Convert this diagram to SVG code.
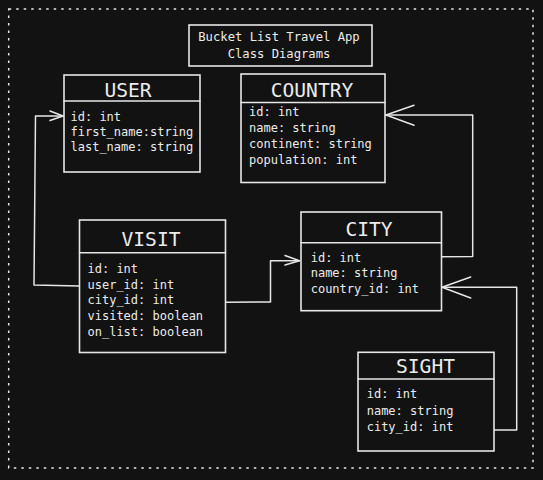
<svg xmlns="http://www.w3.org/2000/svg" width="543" height="480" viewBox="0 0 543 480">
<defs>
<style>
.box{fill:#121212;stroke:#e6e6e6;stroke-width:1.6}
.ln{fill:none;stroke:#e6e6e6;stroke-width:1.5;stroke-linejoin:round;stroke-linecap:round}
.hd{font-family:"DejaVu Sans Mono","Liberation Mono",monospace;font-size:19.6px;fill:#ececec;text-anchor:middle}
.at{font-family:"DejaVu Sans Mono","Liberation Mono",monospace;font-size:12px;fill:#ececec}
.tt{font-family:"DejaVu Sans Mono","Liberation Mono",monospace;font-size:12.2px;fill:#ececec;text-anchor:middle}
</style>
</defs>
<rect width="543" height="480" fill="#121212"/>
<rect x="8.7" y="9" width="524.3" height="459" fill="none" stroke="#e6e6e6" stroke-width="1.5" stroke-dasharray="2.5 5"/>
<g id="title">
<rect class="box" x="189" y="25" width="183" height="41"/>
<text class="tt" x="279" y="41">Bucket List Travel App</text>
<text class="tt" x="279" y="57.5">Class Diagrams</text>
</g>
<g id="user">
<rect class="box" x="64" y="75" width="136" height="97"/>
<line class="ln" x1="64" y1="101" x2="200" y2="101"/>
<text class="hd" x="128" y="97">USER</text>
<text class="at" x="70.5" y="121">id: int</text>
<text class="at" x="70.5" y="136">first_name:string</text>
<text class="at" x="70.5" y="151">last_name: string</text>
</g>
<g id="country">
<rect class="box" x="241" y="74" width="144" height="108.5"/>
<line class="ln" x1="241" y1="102.5" x2="385" y2="102.5"/>
<text class="hd" x="312" y="97">COUNTRY</text>
<text class="at" x="249" y="116">id: int</text>
<text class="at" x="249" y="132">name: string</text>
<text class="at" x="249" y="148">continent: string</text>
<text class="at" x="249" y="164">population: int</text>
</g>
<g id="visit">
<rect class="box" x="79.5" y="220" width="146" height="132.5"/>
<line class="ln" x1="79.5" y1="252.7" x2="225.5" y2="252.7"/>
<text class="hd" x="151" y="246">VISIT</text>
<text class="at" x="87.5" y="272.5">id: int</text>
<text class="at" x="87.5" y="288.5">user_id: int</text>
<text class="at" x="87.5" y="304">city_id: int</text>
<text class="at" x="87.5" y="320">visited: boolean</text>
<text class="at" x="87.5" y="336">on_list: boolean</text>
</g>
<g id="city">
<rect class="box" x="301" y="212" width="140.5" height="98.7"/>
<line class="ln" x1="301" y1="242.7" x2="441.5" y2="242.7"/>
<text class="hd" x="369" y="236">CITY</text>
<text class="at" x="310.7" y="262">id: int</text>
<text class="at" x="310.7" y="277">name: string</text>
<text class="at" x="310.7" y="293">country_id: int</text>
</g>
<g id="sight">
<rect class="box" x="358" y="352.3" width="136" height="98.7"/>
<line class="ln" x1="358" y1="379" x2="494" y2="379"/>
<text class="hd" x="425.5" y="372.5">SIGHT</text>
<text class="at" x="366.7" y="398">id: int</text>
<text class="at" x="366.7" y="415">name: string</text>
<text class="at" x="366.7" y="431">city_id: int</text>
</g>
<g id="connectors">
<polyline class="ln" points="79,286 34,285 35.5,116 63,116"/>
<polyline class="ln" points="50,111 63,116 50,120.5"/>
<polyline class="ln" points="226,302.3 270.5,302 270.5,260.7 299.5,260.7"/>
<polyline class="ln" points="285,255.5 299.5,260.7 285,265"/>
<polyline class="ln" points="442,256.7 472.7,256.5 472.7,115 386,115"/>
<polyline class="ln" points="414,105.3 386,115 414,125.3"/>
<polyline class="ln" points="494.5,430 516.7,430 516.7,287.3 442,287.3"/>
<polyline class="ln" points="470.7,277 442,287.3 470.7,298"/>
</g>
</svg>
